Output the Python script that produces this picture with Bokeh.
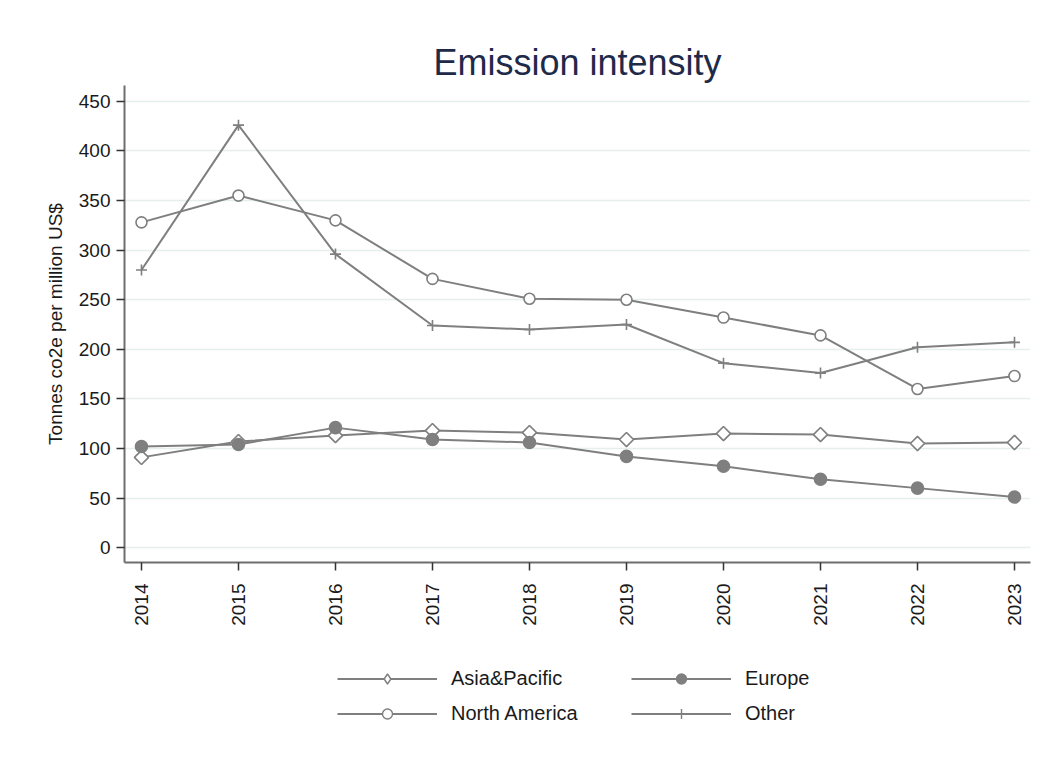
import math
from bokeh.plotting import figure
from bokeh.models import Range1d, FixedTicker, Legend, LegendItem
from bokeh.layouts import column
from bokeh.embed import file_html
from bokeh.resources import INLINE

years = [2014, 2015, 2016, 2017, 2018, 2019, 2020, 2021, 2022, 2023]
asia_pacific = [91, 107, 113, 118, 116, 109, 115, 114, 105, 106]
europe = [102, 104, 121, 109, 106, 92, 82, 69, 60, 51]
north_america = [328, 355, 330, 271, 251, 250, 232, 214, 160, 173]
other = [280, 426, 296, 224, 220, 225, 186, 176, 202, 207]
y_ticks = [0, 50, 100, 150, 200, 250, 300, 350, 400, 450]

FONT = "Liberation Sans"
GRAY = "#7f7f7f"

p = figure(width=1036, height=648, output_backend="svg", toolbar_location=None,
           x_range=Range1d(2013.825, 2023.165), y_range=Range1d(-15, 466),
           min_border_left=124, min_border_right=6, min_border_top=85, min_border_bottom=86,
           title="Emission intensity")

p.title.align = "center"
p.title.text_font = FONT
p.title.text_font_size = "36px"
p.title.text_font_style = "normal"
p.title.text_color = "#1e2a4a"
p.title.standoff = 6

p.outline_line_color = None
p.background_fill_color = "white"
p.border_fill_color = "white"

p.xgrid.grid_line_color = None
p.ygrid.grid_line_color = "#e6eff0"
p.ygrid.grid_line_width = 1.5

p.yaxis.ticker = FixedTicker(ticks=y_ticks)
p.xaxis.ticker = FixedTicker(ticks=years)
p.yaxis.minor_tick_line_color = None
p.xaxis.minor_tick_line_color = None
for ax in (p.xaxis, p.yaxis):
    ax.axis_line_color = "#6e6e6e"
    ax.axis_line_width = 2
    ax.major_tick_line_color = "#333333"
    ax.major_tick_line_width = 1.5
    ax.major_tick_in = 0
    ax.major_tick_out = 8
    ax.major_label_text_font = FONT
    ax.major_label_text_font_size = "19px"
    ax.major_label_text_color = "#1a1a1a"
p.xaxis.major_label_orientation = math.pi / 2
p.xaxis.major_label_standoff = 13
p.yaxis.major_label_standoff = 6
p.yaxis.axis_label = "Tonnes co2e per million US$"
p.yaxis.axis_label_text_font = FONT
p.yaxis.axis_label_text_font_size = "19px"
p.yaxis.axis_label_text_font_style = "normal"
p.yaxis.axis_label_text_color = "#1a1a1a"
p.yaxis.axis_label_standoff = 10

# marker style per series: (plot marker, legend marker, fill, size, angle)
series = [
    ("Asia&Pacific", asia_pacific, "square", "diamond", "white", 10, math.pi / 4),
    ("Europe", europe, "circle", "circle", GRAY, 12, 0),
    ("North America", north_america, "circle", "circle", "white", 11, 0),
    ("Other", other, "cross", "cross", "white", 11, 0),
]

# legend panel as a second figure; its renderers only carry the styles (no visible data)
lg = figure(width=1036, height=110, output_backend="svg", toolbar_location=None,
            x_axis_location=None, y_axis_location=None,
            min_border_left=0, min_border_right=0, min_border_top=0, min_border_bottom=0,
            x_range=Range1d(0, 1), y_range=Range1d(0, 1))
lg.outline_line_color = None
lg.grid.visible = False

nan = float("nan")
items = {}
for name, vals, marker, lmarker, fill, size, ang in series:
    p.line(years, vals, line_color=GRAY, line_width=2)
    p.scatter(years, vals, marker=marker, size=size, angle=ang, line_color=GRAY,
              line_width=1.6, fill_color=fill)
    l2 = lg.line([nan], [nan], line_color=GRAY, line_width=2)
    s2 = lg.scatter([nan], [nan], marker=lmarker, size=size, line_color=GRAY,
                    line_width=1.4, fill_color=fill)
    items[name] = LegendItem(label=name, renderers=[l2, s2])

legend_order = ["Asia&Pacific", "North America", "Europe", "Other"]
legend = Legend(items=[items[n] for n in legend_order], ncols=2, location=(213, 32),
                glyph_width=100, glyph_height=25, label_height=25,
                label_width=170, label_standoff=14, spacing=10,
                padding=0, margin=0,
                label_text_font=FONT, label_text_font_size="20px",
                label_text_color="#1a1a1a",
                border_line_color=None, background_fill_alpha=0)
lg.add_layout(legend)

layout = column(p, lg, spacing=0)
open("out.html", "w").write(file_html(layout, INLINE))
